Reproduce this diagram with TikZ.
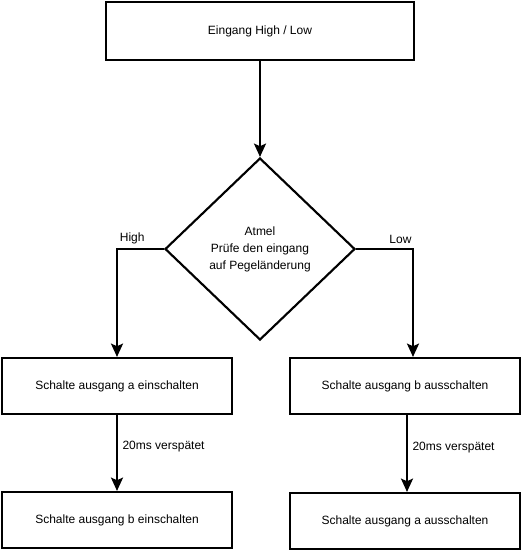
\documentclass[tikz,border=0pt]{standalone}
\usepackage{fontspec}
\setmainfont{Liberation Sans}
\usetikzlibrary{shapes.geometric,arrows.meta,positioning}

\begin{document}
\begin{tikzpicture}[x=0.75pt, y=-0.75pt, line width=1.6pt,
  >={Stealth[length=10pt,width=9pt,inset=2pt]},
  box/.style = {draw, rectangle, minimum width=173pt, minimum height=42pt, font=\fontsize{9}{11}\selectfont},
  check/.style = {draw, diamond, minimum width=142.5pt, minimum height=136.5pt, inner sep=0pt, align=center, font=\fontsize{9}{12.75}\selectfont},
  lbl/.style = {font=\fontsize{9}{11}\selectfont}]
\useasboundingbox (0,0) rectangle (531,551);

\node[box, minimum width=231pt, minimum height=44pt] (1) at (260,31) {Eingang High / Low};
\node[check] (2) at (260,249) {Atmel\\Prüfe den eingang\\auf Pegeländerung};

\node[box] (3) at (117,386) {Schalte ausgang a einschalten};
\node[box] (4) at (117,520) {Schalte ausgang b einschalten};
\node[box] (5) at (405,386) {Schalte ausgang b ausschalten};
\node[box] (6) at (405,521) {Schalte ausgang a ausschalten};

\draw[->] (1) -- (2);
\draw[->] (2.west) -| node[lbl, pos=0.5, above right, xshift=-2pt] {High} (3.north);
\draw[->] (2.east) -| node[lbl, pos=0.5, above left, xshift=3pt] {Low} ([xshift=6pt]5.north);

\draw[->] (3) -- node[lbl, pos=0.42, right] {20ms verspätet} (4);
\draw[->] ([xshift=1.5pt]5.south) -- node[lbl, pos=0.42, right] {20ms verspätet} ([xshift=1.5pt]6.north);

\end{tikzpicture}
\end{document}
